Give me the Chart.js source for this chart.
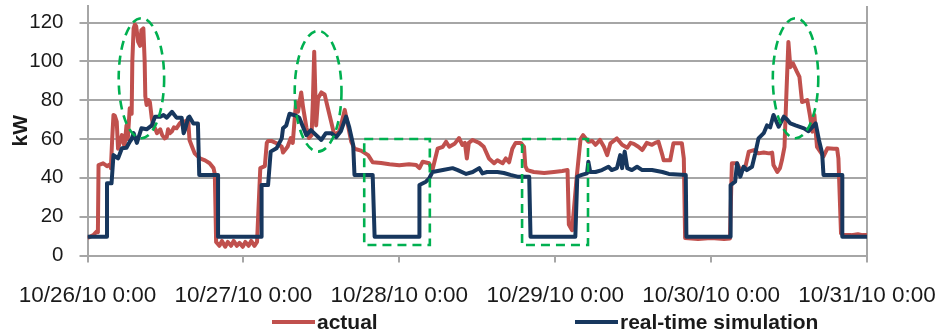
<!DOCTYPE html>
<html><head><meta charset="utf-8">
<script src="https://cdn.jsdelivr.net/npm/chart.js@4"></script>
<style>html,body{margin:0;padding:0;background:#fff}#wrap{width:939px;height:335px;position:relative}</style>
</head><body><div id="wrap"><canvas id="c" width="939" height="335"></canvas></div>
<script>
// ---- data (hours since 10/26/10 0:00, kW) ----
const xTickLabels = ['10/26/10 0:00','10/27/10 0:00','10/28/10 0:00','10/29/10 0:00','10/30/10 0:00','10/31/10 0:00'];
const yTickValues = [0,20,40,60,80,100,120];
const seriesNames = ['actual','real-time simulation'];

const actualHours = [0,0.9,1.4,1.6,1.7,2.4,3.0,3.5,3.6,3.8,4.0,4.2,4.5,4.7,5.3,5.7,6.0,6.2,6.5,6.8,6.9,7.1,7.3,7.5,7.8,8.1,8.3,8.6,8.8,8.9,9.1,9.4,9.6,9.9,10.1,10.4,10.7,11.2,11.5,11.9,12.2,12.4,12.7,13.0,13.3,13.7,14.2,14.5,14.7,15.0,15.5,15.7,16.1,16.5,17.3,18.1,18.8,19.4,19.6,19.8,20.3,20.7,21.2,21.6,22.1,22.5,23.0,23.4,23.9,24.3,24.8,25.2,25.7,26.1,26.6,27.3,27.6,27.8,28.3,29.1,29.9,30.1,30.8,31.3,31.6,32.1,32.4,32.9,33.2,33.7,34.1,34.5,34.7,34.9,35.1,35.2,35.5,36.0,36.5,37.0,37.5,38.0,38.8,39.6,40.1,40.6,41.1,42.1,43.2,43.9,45.2,46.5,48.0,49.5,50.6,51.1,51.6,52.6,53.1,53.9,54.7,55.2,55.7,56.5,57.2,57.7,58.1,58.4,58.7,59.3,60.3,61.0,61.8,62.6,63.1,63.9,64.4,64.9,65.4,65.9,66.7,67.2,67.4,67.7,68.7,70.3,71.8,73.1,73.9,74.1,74.6,75.3,75.9,76.3,77.1,77.7,78.2,78.9,79.5,80.0,80.5,81.5,82.3,83.1,83.6,84.1,84.8,85.4,86.1,86.9,87.4,87.9,88.5,88.7,89.7,90.2,91.5,91.8,92.0,94.0,96.0,98.0,98.9,99.2,100.0,100.5,101.3,101.8,102.6,103.3,104.1,104.9,105.4,105.6,106.2,106.6,106.9,107.3,107.6,107.9,108.2,108.6,109.2,109.6,110.0,110.8,111.2,111.6,111.9,112.3,112.8,113.3,113.9,114.9,115.4,115.6,116.0,116.3,117.6,118.6,119.3,120.0];
const actualKW = [9,10.5,12.3,12,46.6,47.5,46,47,45,60,72.4,72,69,55,62,56,67,60,75.8,73,100,117,119,118,110,108,116,117,100,82,77.5,80,79,70.6,67,65.5,63,65,62,60.3,61,65,63,64,66,65.5,68,69,68,69,70,59.5,56,52.6,50,49,47.5,45,42,7,5,7.5,4.5,7,5,7.5,5,6.5,4.5,7,5,7.5,5,7,45,46,58,59,59,57.8,56,53,56,60.5,58,79,74,84,76,66,60.5,62,80,105,80,67,81,84,83,76,69,62,64,75,67,58.6,55,54,51.7,48,47.6,47,46.5,47,46.6,45,48.3,47.5,44,55,56,58.6,56,57.5,60.5,57,58,50,58,59.5,58,56,50,47.5,49,47.5,50,48,55,58,58,56,46,44,43,42.5,43,43.5,44,16,13,40,60,62,58.6,59,57,59.5,56,51.7,57.8,60.3,57,55.5,58,57.5,56,54.3,58,57,58,58.6,51.7,49,49,57.8,57.8,50,9,8.5,9,8.5,8.8,47.5,47.5,44,46,53.5,54.3,52.6,53,52.6,53,46.6,43,45,49,56,84,110,97,99,94.7,92,79,80,72.4,63.8,72.4,56,53.5,51,55.2,55,55,50,11.4,10.5,10.5,11,10.5,10.5];

const simHours = [0,3.0,3.0,3.7,4.0,4.7,5.3,6.0,6.5,6.8,7.1,7.6,8.3,9.1,9.9,10.4,11.2,11.7,12.2,13.0,13.7,14.5,14.8,15.0,15.5,15.7,16.3,17.0,17.2,20.1,20.1,26.8,26.8,27.8,28.2,29.1,29.9,30.1,30.6,31.1,32.1,32.6,33.2,33.7,34.4,35.2,36.0,36.7,37.5,38.3,39.0,39.8,40.3,40.9,41.1,43.9,44.2,51.1,51.1,52.1,52.6,53.1,54.7,56.2,57.0,58.3,59.3,60.3,60.8,61.5,63.1,64.1,65.1,66.2,68.0,68.2,75.1,75.4,76.1,76.9,77.1,77.4,78.2,79.2,80.2,80.7,81.5,82.0,82.3,82.7,83.1,83.8,84.6,85.4,86.9,88.5,89.5,92.1,92.2,99.0,99.0,99.7,100.0,100.5,101.0,101.5,102.3,102.8,103.3,104.1,104.6,105.1,105.6,106.4,107.2,107.7,108.2,109.0,110.3,111.0,112.1,112.6,113.1,113.3,116.2,116.2,120];
const simKW = [9.7,9.7,37.2,37.2,51.7,50,55.2,55.5,58.6,60,63,58,65.5,65,67,71.5,71.5,72.4,71,74,71,71,63,64.6,71,71.5,68,68,41.5,41.5,9.7,9.7,36.3,36.3,53.5,55.2,60.3,65.5,67,73,72,71,66,62,64.6,62,59.5,63,63,61,64,71.5,66,57,41.5,41.5,9.7,9.7,36.3,38,39.7,43,44,45,44,42,43,45,42.3,43,43,42.5,41.5,40.6,40.6,9.7,9.7,40.6,41.5,42.3,48.3,43,43,44,45.7,44,45,51.7,45,53.5,45,44,45.7,44,44,43,42,41.5,9.7,9.7,36.3,38,47.5,40.6,45.7,44,45.7,52.6,60.3,63,67,66,72.4,66.3,71.5,70,68,67,65.5,64,68,59.5,52.6,41.5,41.5,9.7,9.7];

// highlighted regions (data units)
const ellipseCenterHours = [8.3, 35.5, 109.0];
const ellipseCenterKW = [91.3, 84.6, 91.3];
const ellipseHalfWidthHours = [3.5, 3.6, 3.5];
const ellipseHalfHeightKW = [30.9, 31.1, 30.9];
const rectStartHours = [42.6, 66.9];
const rectEndHours = [52.7, 77.05];
const rectTopKW = [60, 60];
const rectBottomKW = [5.4, 5.4];

const FONT = "'Liberation Sans', Arial, sans-serif";
const GRID = '#a6a6a6';
const TEXT = '#1a1a1a';

function pts(xs, ys){ return xs.map((x,i)=>({x:x, y:ys[i]})); }

const marksPlugin = {
  id: 'greenMarks',
  afterDatasetsDraw(chart){
    const {ctx, scales:{x, y}} = chart;
    ctx.save();
    ctx.strokeStyle = '#00B050';
    ctx.lineWidth = 2.6;
    ctx.setLineDash([9, 6]);
    for (let i = 0; i < ellipseCenterHours.length; i++) {
      const cx = x.getPixelForValue(ellipseCenterHours[i]);
      const cy = y.getPixelForValue(ellipseCenterKW[i]);
      const rx = Math.abs(x.getPixelForValue(ellipseCenterHours[i] + ellipseHalfWidthHours[i]) - cx);
      const ry = Math.abs(y.getPixelForValue(ellipseCenterKW[i] + ellipseHalfHeightKW[i]) - cy);
      ctx.beginPath();
      ctx.ellipse(cx, cy, rx, ry, 0, 0, Math.PI * 2);
      ctx.stroke();
    }
    for (let i = 0; i < rectStartHours.length; i++) {
      const x1 = x.getPixelForValue(rectStartHours[i]);
      const x2 = x.getPixelForValue(rectEndHours[i]);
      const y1 = y.getPixelForValue(rectTopKW[i]);
      const y2 = y.getPixelForValue(rectBottomKW[i]);
      ctx.beginPath();
      ctx.rect(x1, y1, x2 - x1, y2 - y1);
      ctx.stroke();
    }
    ctx.restore();
  }
};

const legendPlugin = {
  id: 'bottomLegend',
  afterDraw(chart, args, opts){
    const ctx = chart.ctx;
    ctx.save();
    ctx.font = 'bold 21px ' + FONT;
    ctx.textBaseline = 'middle';
    ctx.textAlign = 'left';
    chart.data.datasets.forEach((ds, i) => {
      const sx = opts.starts[i];
      ctx.strokeStyle = ds.borderColor;
      ctx.lineWidth = 4;
      ctx.setLineDash([]);
      ctx.beginPath();
      ctx.moveTo(sx, opts.y);
      ctx.lineTo(sx + 43, opts.y);
      ctx.stroke();
      ctx.fillStyle = TEXT;
      ctx.fillText(ds.label, sx + 45, opts.y + 1);
    });
    ctx.restore();
  }
};

new Chart(document.getElementById('c'), {
  type: 'line',
  data: {
    datasets: [
      { label: seriesNames[0], data: pts(actualHours, actualKW), borderColor: '#C0504D', backgroundColor: '#C0504D', borderWidth: 4, pointRadius: 0, tension: 0, order: 1, borderJoinStyle: 'round' },
      { label: seriesNames[1], data: pts(simHours, simKW), borderColor: '#17375E', backgroundColor: '#17375E', borderWidth: 4, pointRadius: 0, tension: 0, order: 0, borderJoinStyle: 'round' }
    ]
  },
  options: {
    responsive: false,
    animation: false,
    devicePixelRatio: 1,
    layout: { padding: { top: 6, right: 72, bottom: 0, left: 0 } },
    plugins: {
      legend: { display: false },
      tooltip: { enabled: false },
      bottomLegend: { starts: [272, 575], y: 322 }
    },
    scales: {
      x: {
        type: 'linear', min: 0, max: 120,
        ticks: { stepSize: 24, autoSkip: false, maxRotation: 0, color: TEXT, font: { family: FONT, size: 22.5 }, padding: 20,
                 callback: (v) => xTickLabels[Math.round(v / 24)] },
        grid: { color: (c) => (c.tick && c.tick.value === 120) ? GRID : 'rgba(0,0,0,0)', lineWidth: 2, tickLength: 7, tickColor: GRID, drawOnChartArea: true },
        border: { color: GRID, width: 2 },
        afterFit: (s) => { s.height = 79.5; s.paddingLeft = 0; s.paddingRight = 0; }
      },
      y: {
        min: 0, max: 128.5,
        afterBuildTicks: (s) => { s.ticks = yTickValues.map(v => ({ value: v })); },
        ticks: { color: TEXT, font: { family: FONT, size: 20.5 }, padding: 16 },
        grid: { color: GRID, lineWidth: 2, tickLength: 8, tickColor: GRID },
        border: { color: GRID, width: 2 },
        title: { display: true, text: 'kW', color: TEXT, font: { family: FONT, size: 21, weight: 'bold' }, padding: { top: 9, bottom: 0 } },
        afterFit: (s) => { s.width = 87.5; s.paddingTop = 0; s.paddingBottom = 0; }
      }
    }
  },
  plugins: [marksPlugin, legendPlugin]
});
</script>
</body></html>
